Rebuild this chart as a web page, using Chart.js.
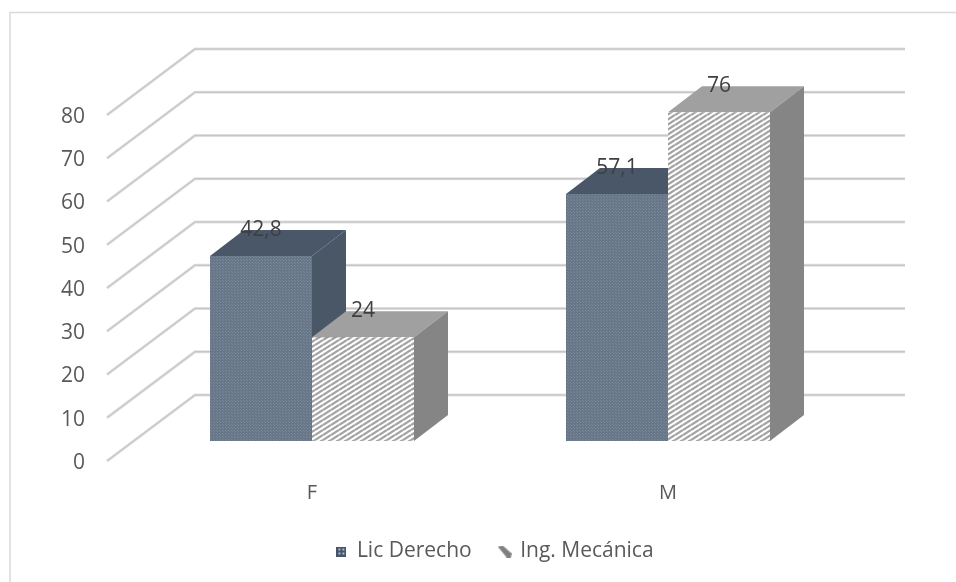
<!DOCTYPE html>
<html>
<head>
<meta charset="utf-8">
<style>
  html, body { margin: 0; padding: 0; background: #fff; overflow: hidden; }
  #wrap { position: relative; width: 956px; height: 582px; }
</style>
<script src="https://cdn.jsdelivr.net/npm/chart.js@4"></script>
</head>
<body>
<div id="wrap"><canvas id="chart" width="956" height="582"></canvas></div>
<script>
const categories = ['F', 'M'];
const licDerecho = [42.8, 57.1];
const ingMecanica = [24, 76];
const seriesNames = ['Lic Derecho', 'Ing. Mecánica'];
const yMax = 80;
const yStep = 10;

const FONT = '"Open Sans"';

function makeTile(w, h, paint) {
    const c = document.createElement('canvas');
    c.width = w;
    c.height = h;
    paint(c.getContext('2d'), w, h);
    return c;
}

// fine dotted fill of the first series
const dotTile = makeTile(3, 3, (g) => {
    g.fillStyle = '#687689';
    g.fillRect(0, 0, 3, 3);
    g.fillStyle = '#7a8797';
    g.fillRect(0, 0, 1, 1);
    g.fillRect(1, 1, 1, 1);
});

// diagonal stripes of the second series
const stripeTile = makeTile(8, 5, (g) => {
    g.fillStyle = '#ffffff';
    g.fillRect(0, 0, 8, 5);
    g.strokeStyle = '#a3a3a3';
    g.lineWidth = 2.3;
    [-5, 0, 5].forEach((y0) => {
        g.beginPath();
        g.moveTo(0, y0 + 5);
        g.lineTo(8, y0);
        g.stroke();
    });
});

const ctx = document.getElementById('chart').getContext('2d');
const dotFill = ctx.createPattern(dotTile, 'repeat');
const stripeFill = ctx.createPattern(stripeTile, 'repeat');

// legend swatches
const legendLic = makeTile(10, 10, (g) => {
    g.fillStyle = '#44546a';
    g.fillRect(0, 0, 10, 10);
    g.fillStyle = '#b4bcc8';
    g.fillRect(2, 2, 2, 2);
    g.fillRect(6, 2, 2, 2);
    g.fillRect(2, 6, 2, 2);
    g.fillRect(6, 6, 2, 2);
});
const legendIng = makeTile(14, 12, (g) => {
    g.fillStyle = '#808080';
    g.beginPath();
    g.moveTo(0, 1);
    g.lineTo(5, 0);
    g.lineTo(14, 8);
    g.lineTo(13, 12);
    g.lineTo(9, 12);
    g.closePath();
    g.fill();
});

const sideStyles = [
    { top: '#495768', side: '#4a5766' },
    { top: '#a0a0a0', side: '#858585' }
];

// shift of the bars towards the back wall, and depth of each box
const BAR_DX = 27;
const BAR_DY = -20;
const DEPTH_X = 34;
const DEPTH_Y = -26;
const WALL_DX = 88;
const WALL_DY = -66;

const frameAndWalls = {
    id: 'frameAndWalls',
    beforeDatasetsDraw(chart) {
        const c = chart.ctx;
        const area = chart.chartArea;
        const y = chart.scales.y;

        c.save();
        c.strokeStyle = '#d9d9d9';
        c.lineWidth = 1.5;
        c.beginPath();
        c.moveTo(10, 590);
        c.lineTo(10, 12.5);
        c.lineTo(956, 12.5);
        c.stroke();

        y.ticks.forEach((t) => {
            const py = y.getPixelForValue(t.value);
            const path = () => {
                c.beginPath();
                c.moveTo(area.left, py);
                c.lineTo(area.left + WALL_DX, py + WALL_DY);
                c.lineTo(area.right + 86, py + WALL_DY);
                c.stroke();
            };
            c.lineWidth = 3;
            c.strokeStyle = '#e4e4e4';
            path();
            c.lineWidth = 1.5;
            c.strokeStyle = '#c6c6c6';
            path();
        });

        // top and side faces, first series first so the second covers it
        c.translate(BAR_DX, BAR_DY);
        chart.data.datasets.forEach((ds, i) => {
            const colors = sideStyles[i];
            chart.getDatasetMeta(i).data.forEach((bar) => {
                const p = bar.getProps(['x', 'y', 'base', 'width'], true);
                const l = p.x - p.width / 2;
                const r = p.x + p.width / 2;
                c.fillStyle = colors.top;
                c.beginPath();
                c.moveTo(l, p.y);
                c.lineTo(l + DEPTH_X, p.y + DEPTH_Y);
                c.lineTo(r + DEPTH_X, p.y + DEPTH_Y);
                c.lineTo(r, p.y);
                c.closePath();
                c.fill();
                c.fillStyle = colors.side;
                c.beginPath();
                c.moveTo(r, p.y);
                c.lineTo(r + DEPTH_X, p.y + DEPTH_Y);
                c.lineTo(r + DEPTH_X, p.base + DEPTH_Y);
                c.lineTo(r, p.base);
                c.closePath();
                c.fill();
            });
        });
        c.restore();
    },
    beforeDatasetDraw(chart) {
        chart.ctx.save();
        chart.ctx.translate(BAR_DX, BAR_DY);
    },
    afterDatasetDraw(chart) {
        chart.ctx.restore();
    },
    afterDatasetsDraw(chart) {
        const c = chart.ctx;
        c.save();
        c.font = '21px ' + FONT;
        c.fillStyle = '#404040';
        c.textAlign = 'center';
        c.textBaseline = 'middle';
        chart.data.datasets.forEach((ds, i) => {
            chart.getDatasetMeta(i).data.forEach((bar, j) => {
                const text = String(ds.data[j]).replace('.', ',');
                c.fillText(text, bar.x + BAR_DX, bar.y + BAR_DY - 26);
            });
        });
        c.restore();
    }
};

new Chart(ctx, {
    type: 'bar',
    data: {
        labels: categories,
        datasets: [
            { label: seriesNames[0], data: licDerecho, backgroundColor: dotFill, clip: false },
            { label: seriesNames[1], data: ingMecanica, backgroundColor: stripeFill, clip: false }
        ]
    },
    options: {
        responsive: false,
        animation: false,
        devicePixelRatio: 1,
        categoryPercentage: 0.573,
        barPercentage: 1,
        layout: { padding: { left: 34, top: 115, right: 0, bottom: 10 } },
        scales: {
            x: {
                grid: { display: false },
                border: { display: false },
                ticks: { labelOffset: BAR_DX, padding: 12, color: '#595959', font: { family: FONT, size: 20 } },
                afterFit: (s) => { s.height = 52; }
            },
            y: {
                min: 0,
                max: yMax,
                grid: { display: false },
                border: { display: false },
                ticks: { stepSize: yStep, padding: 14, labelOffset: 2, color: '#595959', font: { family: FONT, size: 21 } },
                afterFit: (s) => { s.width = 73; }
            },
            // empty axis, keeps the plot left of the wall depth
            yRight: {
                position: 'right',
                grid: { display: false },
                border: { display: false },
                ticks: { display: false },
                afterFit: (s) => { s.width = 137; }
            }
        },
        plugins: {
            title: { display: false },
            tooltip: { enabled: false },
            legend: {
                position: 'bottom',
                labels: {
                    usePointStyle: true,
                    boxWidth: 10,
                    color: '#595959',
                    padding: 28,
                    font: { family: FONT, size: 21 },
                    generateLabels: () => seriesNames.map((name, i) => ({
                        text: name,
                        datasetIndex: i,
                        fontColor: '#595959',
                        pointStyle: i === 0 ? legendLic : legendIng,
                        lineWidth: 0,
                        strokeStyle: 'transparent',
                        fillStyle: 'transparent'
                    }))
                }
            }
        }
    },
    plugins: [frameAndWalls]
});
</script>
</body>
</html>
